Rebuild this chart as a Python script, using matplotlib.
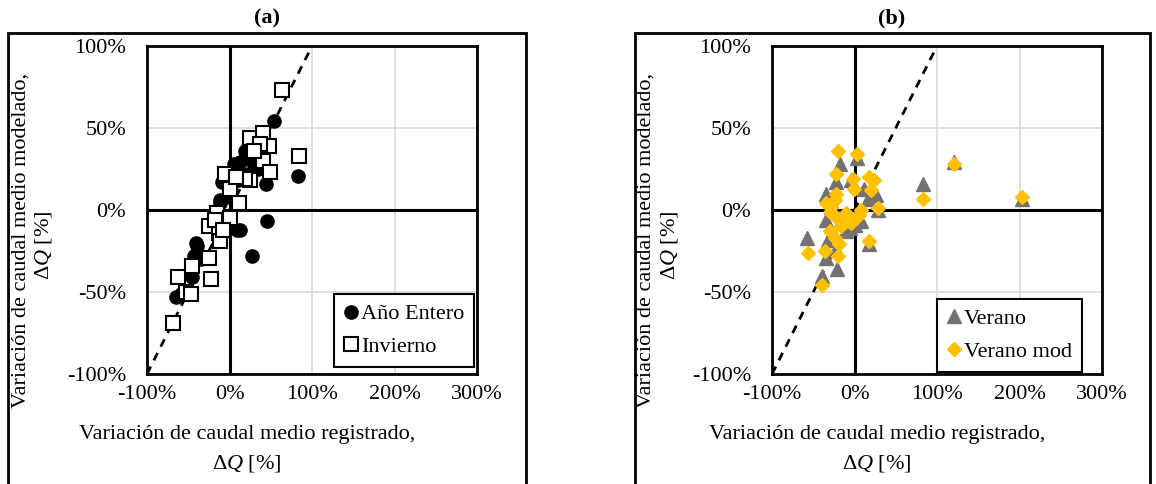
import matplotlib
matplotlib.use("Agg")
import matplotlib.pyplot as plt
from matplotlib.patches import Rectangle
from matplotlib.ticker import FuncFormatter

plt.rcParams['font.family'] = ['Liberation Serif', 'DejaVu Serif']
plt.rcParams['mathtext.fontset'] = 'custom'
plt.rcParams['mathtext.it'] = 'Liberation Serif:italic'
plt.rcParams['mathtext.rm'] = 'Liberation Serif'

# ---------------- data (percent) ----------------
anio_x = [54, 83, 44, 45, 27, -65, 19, 5, -9, -11, 9, -41, -43, 13, 29, 1, -11, -19, 13, -39, -35, -45, -59, 22, 35, 10]
anio_y = [54, 21, 16, -7, -28, -53, 36, 28, 17, 6, -12, -20, -28, 29, 29, 8, 4, -4, -12, -22, -30, -41, -51, 22, 25, 18]

inv_x = [64, 84, 25, 40, 48, 37, 41, 49, 25, -5, 1, 11, 19, -15, 1, -25, -13, -11, -25, -45, -23, -63, -53, -47, -68, 30, 8, -18, -8]
inv_y = [73, 33, 44, 47, 39, 40, 30, 23, 18, 22, 13, 4, 19, -2, -5, -10, -14, -19, -29, -34, -42, -41, -50, -51, -69, 36, 20, -6, -12]

ver_x = [121, 203, 83, -58, -21, -40, -35, 17, 3, -18, -23, -34, -4, 26, 16, 28, -34, -10, 8, -22, -32, -6, 12, -28, -15, 0]
ver_y = [29, 7, 16, -17, -36, -40, -29, -21, 32, 28, 17, 10, 18, 9, 7, 0, -6, -13, -7, -24, -18, -11, 13, 2, -4, -9]

vmod_x = [-20, 3, 121, 203, 83, -23, -2, -1, 18, 24, 20, 28, -22, -34, -30, -22, -14, -4, 2, 8, -30, -24, -19, -36, -20, -56, 18, -40, -24, -10, -28, -16, 5]
vmod_y = [36, 34, 28, 8, 7, 22, 19, 13, 20, 18, 12, 1, 10, 4, -1, -4, -6, -8, -5, 0, -13, -17, -21, -25, -28, -26, -19, -46, 6, -2, 2, -10, -3]

one_to_one = [-100, 100]
xticks = [-100, 0, 100, 200, 300]
yticks = [-100, -50, 0, 50, 100]

W, H = 1156, 484
fig = plt.figure(figsize=(W / 100, H / 100), dpi=100)

def px_axes(x0, y0, x1, y1):
    return fig.add_axes([x0 / W, 1 - y1 / H, (x1 - x0) / W, (y1 - y0) / H])

pct = FuncFormatter(lambda v, p: f"{v:.0f}%")
FS = 16

def setup(ax):
    ax.set_xlim(-100, 300)
    ax.set_ylim(-100, 100)
    ax.set_xticks(xticks)
    ax.set_yticks(yticks)
    ax.xaxis.set_major_formatter(pct)
    ax.yaxis.set_major_formatter(pct)
    ax.tick_params(length=0, labelsize=FS, pad=8)
    ax.tick_params(axis='y', pad=15)
    ax.grid(True, color='#D9D9D9', lw=1.2, zorder=0)
    ax.set_axisbelow(True)
    for s in ax.spines.values():
        s.set_linewidth(2)
        s.set_color('black')
    ax.axhline(0, color='black', lw=2.2, zorder=1)
    ax.axvline(0, color='black', lw=2.2, zorder=1)
    ax.plot(one_to_one, one_to_one, ls=(0, (3, 2.5)), color='black', lw=2, zorder=1.5)

def frame_and_labels(x0, x1, title, title_x, xlab_x, ylab_x):
    fig.patches.append(Rectangle((x0 / W, -0.05), (x1 - x0) / W, 1 - 33 / H + 0.05,
                                 transform=fig.transFigure, fill=False, lw=2, ec='black'))
    fig.text(title_x / W, 1 - 18 / H, title, ha='center', va='center',
             fontsize=FS, fontweight='bold')
    fig.text(xlab_x / W, 1 - 434 / H, 'Variación de caudal medio registrado,', ha='center', va='center', fontsize=FS)
    fig.text(xlab_x / W, 1 - 463 / H, r'$\Delta$$\mathit{Q}$ [%]', ha='center', va='center', fontsize=FS)
    fig.text(ylab_x / W, 1 - 240 / H, 'Variación de caudal medio modelado,', ha='center', va='center',
             rotation=90, fontsize=FS)
    fig.text((ylab_x + 23) / W, 1 - 245 / H, r'$\Delta$$\mathit{Q}$ [%]', ha='center', va='center',
             rotation=90, fontsize=FS)

# ---------------- panel (a) ----------------
axa = px_axes(147, 46, 477, 374)
setup(axa)
axa.plot(anio_x, anio_y, 'o', ms=9.5, color='black', mec='black', ls='none', label='Año Entero', zorder=3)
axa.plot(inv_x, inv_y, 's', ms=10.5, mfc='white', mec='black', mew=1.5, ls='none', label='Invierno', zorder=4)
lga = axa.legend(loc='lower right', bbox_to_anchor=(0.991, 0.021), fontsize=FS, frameon=True, fancybox=False,
                 edgecolor='black', framealpha=1, handlelength=0.6, handletextpad=0.15, labelspacing=0.55,
                 borderpad=0.45, borderaxespad=0)
lga.get_frame().set_linewidth(1.5)
frame_and_labels(8, 526, '(a)', 267, 247, 21)

# ---------------- panel (b) ----------------
axb = px_axes(772, 46, 1102, 374)
setup(axb)
axb.plot(ver_x, ver_y, '^', ms=10.5, color='#767171', ls='none', label='Verano', zorder=3)
axb.plot(vmod_x, vmod_y, 'D', ms=7.2, color='#FFC000', ls='none', label='Verano mod', zorder=4)
lgb = axb.legend(loc='lower right', bbox_to_anchor=((1082 - 772) / 330, (374 - 372) / 327), fontsize=FS,
                 frameon=True, fancybox=False, edgecolor='black', framealpha=1, handlelength=0.6,
                 handletextpad=0.15, labelspacing=0.55, borderpad=0.45, borderaxespad=0)
lgb.get_frame().set_linewidth(1.5)
frame_and_labels(635, 1150, '(b)', 892, 877, 646)

fig.savefig('out.png', dpi=100)
